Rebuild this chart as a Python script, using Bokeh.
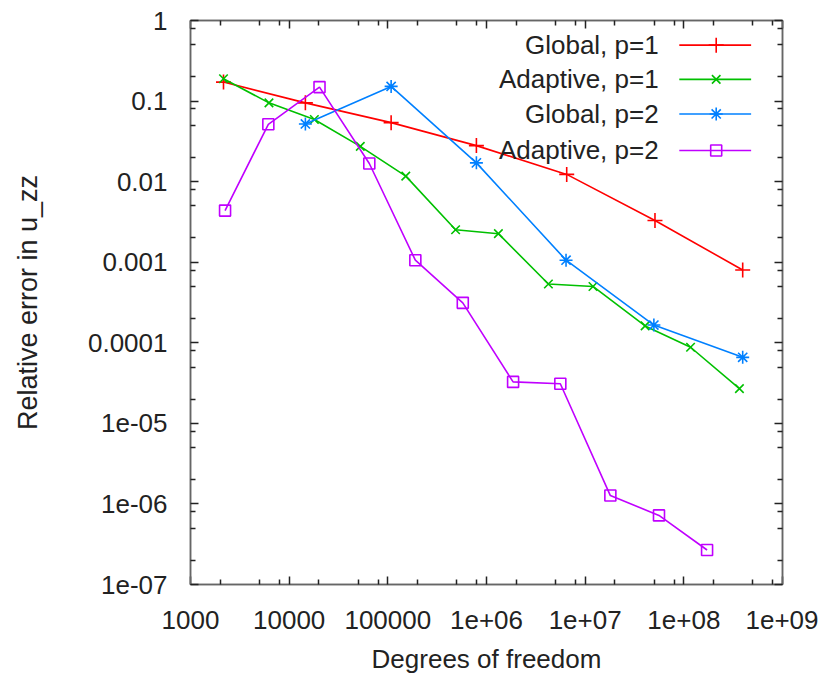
from bokeh.plotting import figure
from bokeh.models import FixedTicker, LogAxis, CustomJSTickFormatter
from bokeh.core.properties import value
from bokeh.embed import file_html
from bokeh.resources import INLINE

# ---- data ----
series_names = ["Global, p=1", "Adaptive, p=1", "Global, p=2", "Adaptive, p=2"]

global_p1_dof = [2160, 14600, 108000, 790000, 6.5e6, 5.1e7, 3.95e8]
global_p1_err = [0.172, 0.095, 0.054, 0.028, 0.0123, 0.0033, 0.0008]

adaptive_p1_dof = [2160, 6240, 18000, 52600, 152000, 486000, 1.32e6, 4.24e6, 1.2e7, 4.05e7, 1.17e8, 3.66e8]
adaptive_p1_err = [0.189, 0.095, 0.059, 0.0274, 0.0117, 0.00253, 0.00226, 0.000536, 0.0005, 0.000162, 8.8e-5, 2.7e-5]

global_p2_dof = [14600, 108000, 790000, 6.4e6, 4.97e7, 3.95e8]
global_p2_err = [0.052, 0.152, 0.0171, 0.00106, 0.000166, 6.6e-5]

adaptive_p2_dof = [2240, 6150, 20300, 64900, 190000, 575000, 1.86e6, 5.6e6, 1.8e7, 5.6e7, 1.72e8]
adaptive_p2_err = [0.00437, 0.0515, 0.149, 0.0168, 0.00106, 0.000313, 3.27e-5, 3.1e-5, 1.27e-6, 7.2e-7, 2.68e-7]

x_ticks = [1e3, 1e4, 1e5, 1e6, 1e7, 1e8, 1e9]
x_tick_labels = ["1000", "10000", "100000", "1e+06", "1e+07", "1e+08", "1e+09"]
y_ticks = [1e-7, 1e-6, 1e-5, 1e-4, 1e-3, 1e-2, 1e-1, 1]
y_tick_labels = ["1e-07", "1e-06", "1e-05", "0.0001", "0.001", "0.01", "0.1", "1"]

x_label = "Degrees of freedom"
y_label = "Relative error in u_zz"

# ---- styling ----
colors = ["#ff0000", "#00c000", "#0080ff", "#c000ff"]
markers = ["cross", "x", "asterisk", "square"]
marker_sizes = [15, 12, 13, 11]
FONT = "Liberation Sans"
TXT = "#222222"

p = figure(width=818, height=681, x_axis_type="log", y_axis_type="log",
           x_range=(1e3, 1e9), y_range=(1e-7, 1),
           output_backend="svg", toolbar_location=None,
           min_border_left=190, min_border_right=36,
           min_border_top=20, min_border_bottom=97)
p.xgrid.visible = False
p.ygrid.visible = False
p.outline_line_color = "#666666"
p.outline_line_width = 1.5
p.background_fill_color = "white"
p.border_fill_color = "white"


def minor(majors):
    out = []
    for m in majors[:-1]:
        for k in (2, 5, 8):
            out.append(m * k)
    return out


def fmt(tv, tl):
    return CustomJSTickFormatter(args=dict(tick_vals=tv, tick_txt=tl), code="""
        let best = 0, bd = Infinity;
        for (let i = 0; i < tick_vals.length; i++) {
            const d = Math.abs(Math.log10(tick_vals[i]) - Math.log10(tick));
            if (d < bd) { bd = d; best = i; }
        }
        return tick_txt[best];
    """)


def style_axis(ax, show_labels):
    ax.axis_line_color = "#666666"
    ax.axis_line_width = 1.5
    ax.major_tick_in = 8
    ax.major_tick_out = 0
    ax.minor_tick_in = 5
    ax.minor_tick_out = 0
    ax.major_tick_line_color = "#222222"
    ax.minor_tick_line_color = "#222222"
    ax.major_tick_line_width = 1.5
    ax.minor_tick_line_width = 1.5
    if show_labels:
        ax.major_label_text_font = FONT
        ax.major_label_text_font_size = "26px"
        ax.major_label_text_color = TXT
    else:
        ax.major_label_text_font_size = "7px"
        ax.major_label_text_color = None
        ax.major_label_standoff = 0


xa = p.xaxis[0]
xa.ticker = FixedTicker(ticks=x_ticks, minor_ticks=minor(x_ticks))
xa.formatter = fmt(x_ticks, x_tick_labels)
style_axis(xa, True)
xa.major_label_standoff = 26
xa.axis_label = x_label
xa.axis_label_text_font = FONT
xa.axis_label_text_font_size = "26px"
xa.axis_label_text_font_style = "normal"
xa.axis_label_text_color = TXT
xa.axis_label_standoff = 12

ya = p.yaxis[0]
ya.ticker = FixedTicker(ticks=y_ticks, minor_ticks=minor(y_ticks))
ya.formatter = fmt(y_ticks, y_tick_labels)
style_axis(ya, True)
ya.major_label_standoff = 23
ya.axis_label = y_label
ya.axis_label_text_font = FONT
ya.axis_label_text_font_size = "27px"
ya.axis_label_text_font_style = "normal"
ya.axis_label_text_color = TXT
ya.axis_label_standoff = 42

top = LogAxis(ticker=FixedTicker(ticks=x_ticks, minor_ticks=minor(x_ticks)))
style_axis(top, False)
p.add_layout(top, "above")
right = LogAxis(ticker=FixedTicker(ticks=y_ticks, minor_ticks=minor(y_ticks)))
style_axis(right, False)
p.add_layout(right, "right")

all_x = [global_p1_dof, adaptive_p1_dof, global_p2_dof, adaptive_p2_dof]
all_y = [global_p1_err, adaptive_p1_err, global_p2_err, adaptive_p2_err]

for xs, ys, c, m, s in zip(all_x, all_y, colors, markers, marker_sizes):
    p.line(xs, ys, line_color=c, line_width=1.6)
    p.scatter(xs, ys, marker=m, size=s, line_color=c, fill_color=None, line_width=1.6)

# ---- gnuplot-style key: right-aligned text, then sample line + marker ----
key_text_x = 10 ** 7.745
key_line_x0 = 10 ** 7.954
key_line_x1 = 10 ** 8.682
key_mark_x = 10 ** 8.328
key_rows = [10 ** -0.306, 10 ** -0.731, 10 ** -1.16, 10 ** -1.613]

p.text(x=[key_text_x] * 4, y=key_rows, text=series_names,
       text_align="right", text_baseline="middle",
       text_font=value(FONT), text_font_size="26px", text_color=TXT)
for r, c, m, s in zip(key_rows, colors, markers, marker_sizes):
    p.segment(x0=[key_line_x0], y0=[r], x1=[key_line_x1], y1=[r], line_color=c, line_width=1.6)
    p.scatter(x=[key_mark_x], y=[r], marker=m, size=s, line_color=c, fill_color=None, line_width=1.6)

open("out.html", "w").write(file_html(p, INLINE))
